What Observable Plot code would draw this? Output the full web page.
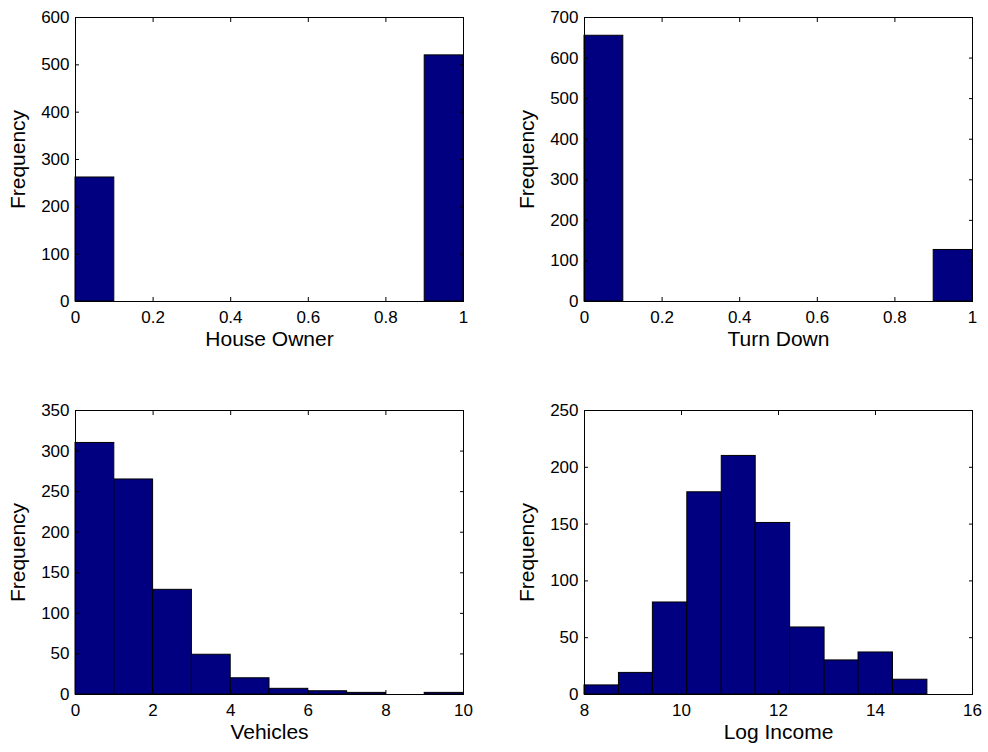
<!DOCTYPE html>
<html>
<head>
<meta charset="utf-8">
<script src="https://cdn.jsdelivr.net/npm/d3@7"></script>
<script src="https://cdn.jsdelivr.net/npm/@observablehq/plot@0.6"></script>
<style>
  html, body { margin: 0; padding: 0; background: white; }
  #wrap { position: relative; width: 988px; height: 752px; background: white; }
  .panel { position: absolute; width: 494px; height: 376px; }
  svg g[aria-label="x-axis label"], svg g[aria-label="y-axis label"] { font-size: 21px; }
</style>
</head>
<body>
<div id="wrap">
  <div class="panel" id="p1" style="left:0;top:0"></div>
  <div class="panel" id="p2" style="left:494px;top:0"></div>
  <div class="panel" id="p3" style="left:0;top:376px"></div>
  <div class="panel" id="p4" style="left:494px;top:376px"></div>
</div>
<script>
// ---- Data ----
const houseOwnerEdges = [0, 0.1, 0.2, 0.3, 0.4, 0.5, 0.6, 0.7, 0.8, 0.9, 1.0];
const houseOwnerCounts = [262, 0, 0, 0, 0, 0, 0, 0, 0, 520];
const houseOwnerXTicks = [0, 0.2, 0.4, 0.6, 0.8, 1];
const houseOwnerYTicks = [0, 100, 200, 300, 400, 500, 600];

const turnDownEdges = [0, 0.1, 0.2, 0.3, 0.4, 0.5, 0.6, 0.7, 0.8, 0.9, 1.0];
const turnDownCounts = [655, 0, 0, 0, 0, 0, 0, 0, 0, 127];
const turnDownXTicks = [0, 0.2, 0.4, 0.6, 0.8, 1];
const turnDownYTicks = [0, 100, 200, 300, 400, 500, 600, 700];

const vehiclesEdges = [0, 1, 2, 3, 4, 5, 6, 7, 8, 9, 10];
const vehiclesCounts = [310, 265, 129, 49, 20, 7, 4, 2, 0, 2];
const vehiclesXTicks = [0, 2, 4, 6, 8, 10];
const vehiclesYTicks = [0, 50, 100, 150, 200, 250, 300, 350];

const logIncomeEdges = [8.00, 8.71, 9.41, 10.12, 10.83, 11.53, 12.24, 12.95, 13.65, 14.36, 15.07];
const logIncomeCounts = [8, 19, 81, 178, 210, 151, 59, 30, 37, 13];
const logIncomeXTicks = [8, 10, 12, 14, 16];
const logIncomeYTicks = [0, 50, 100, 150, 200, 250];

const panels = [
  {id: "p1", label: "House Owner", edges: houseOwnerEdges, counts: houseOwnerCounts, xt: houseOwnerXTicks, yt: houseOwnerYTicks, ml: 75, mr: 31, mt: 17, mb: 75},
  {id: "p2", label: "Turn Down", edges: turnDownEdges, counts: turnDownCounts, xt: turnDownXTicks, yt: turnDownYTicks, ml: 90, mr: 16, mt: 17, mb: 75},
  {id: "p3", label: "Vehicles", edges: vehiclesEdges, counts: vehiclesCounts, xt: vehiclesXTicks, yt: vehiclesYTicks, ml: 75, mr: 31, mt: 34, mb: 58},
  {id: "p4", label: "Log Income", edges: logIncomeEdges, counts: logIncomeCounts, xt: logIncomeXTicks, yt: logIncomeYTicks, ml: 90, mr: 16, mt: 34, mb: 58}
];

const fmt = d3.format("~g");

for (const p of panels) {
  const bins = p.counts.map((c, i) => ({x1: p.edges[i], x2: p.edges[i + 1], y: c}));
  const xd = [p.xt[0], p.xt[p.xt.length - 1]];
  const yd = [p.yt[0], p.yt[p.yt.length - 1]];
  const chart = Plot.plot({
    width: 494,
    height: 376,
    marginLeft: p.ml,
    marginRight: p.mr,
    marginTop: p.mt,
    marginBottom: p.mb,
    style: {fontFamily: "'Liberation Sans', Arial, Helvetica, sans-serif", fontSize: "17px", color: "black", background: "white", overflow: "visible"},
    x: {domain: xd},
    y: {domain: yd},
    marks: [
      Plot.rectY(bins, {x1: "x1", x2: "x2", y: "y", fill: "#000080", stroke: "black", strokeWidth: 1}),
      Plot.frame({stroke: "black", strokeWidth: 1}),
      Plot.axisX(p.xt, {anchor: "bottom", tickSize: -4, tickPadding: 13, tickFormat: fmt, label: p.label, labelAnchor: "center", labelArrow: "none", labelOffset: 44}),
      Plot.axisX(p.xt, {anchor: "top", tickSize: -4, tickFormat: () => "", label: null}),
      Plot.axisY(p.yt, {anchor: "left", tickSize: -4, tickPadding: 10, tickFormat: fmt, label: "Frequency", labelAnchor: "center", labelArrow: "none", labelOffset: 65}),
      Plot.axisY(p.yt, {anchor: "right", tickSize: -4, tickFormat: () => "", label: null})
    ]
  });
  document.getElementById(p.id).appendChild(chart);
}
</script>
</body>
</html>
